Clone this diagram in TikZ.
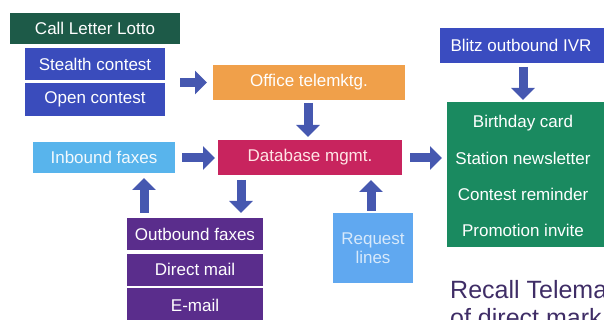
\documentclass[tikz,border=0pt]{standalone}
\usepackage{fontspec}
\setmainfont{Liberation Sans}
\usetikzlibrary{arrows.meta,calc}
\definecolor{lottoC}{HTML}{1D5A48}
\definecolor{contestC}{HTML}{3A4CBC}
\definecolor{officeC}{HTML}{F0A04A}
\definecolor{dbC}{HTML}{C8245E}
\definecolor{inC}{HTML}{58B4EC}
\definecolor{outC}{HTML}{5A2D8C}
\definecolor{reqC}{HTML}{60A8F0}
\definecolor{blitzC}{HTML}{3A4CC0}
\definecolor{greenC}{HTML}{1A8A60}
\definecolor{arrC}{HTML}{4658B0}
\definecolor{titleC}{HTML}{3F2D66}
\tikzset{
  box/.style={draw=none, inner sep=0pt, text=white, font=\fontsize{17}{19}\selectfont},
  blk/.style={draw=arrC, line width=9pt, -{Triangle[width=23pt,length=12pt]}, fill=arrC},
  gtext/.style={text=white, font=\fontsize{17}{19}\selectfont, inner sep=0pt},
  title/.style={text=titleC, font=\fontsize{25}{28}\selectfont, anchor=base west, inner sep=0pt}
}
\begin{document}
\begin{tikzpicture}[x=1pt,y=-1pt]
\useasboundingbox (0,0) rectangle (604,320);
\clip (0,0) rectangle (604,320);
% boxes
\node[box, fill=lottoC, minimum width=170pt, minimum height=31pt] (lotto) at (95,28.5) {Call Letter Lotto};
\node[box, fill=contestC, minimum width=140pt, minimum height=32pt] (stealth) at (95,64) {Stealth contest};
\node[box, fill=contestC, minimum width=140pt, minimum height=33pt] (open) at (95,99.5) {Open contest};
\node[box, fill=officeC, minimum width=192pt, minimum height=35pt] (office) at (309,82.5) {Office telemktg.};
\node[box, fill=dbC, text=pink!40!white, minimum width=184pt, minimum height=35pt] (db) at (310,157.5) {Database mgmt.};
\node[box, fill=inC, text=white!92!inC, minimum width=142pt, minimum height=31pt] (inbound) at (104,157.5) {Inbound faxes};
\node[box, fill=outC, minimum width=136pt, minimum height=32pt] (outbound) at (195,234) {Outbound faxes};
\node[box, fill=outC, minimum width=136pt, minimum height=32pt] (direct) at (195,269.5) {Direct mail};
\node[box, fill=outC, minimum width=136pt, minimum height=34pt] (email) at (195,305) {E-mail};
\node[box, fill=reqC, text=white!75!reqC, minimum width=80pt, minimum height=70pt, align=center, font=\fontsize{17}{19}\selectfont] (request) at (373,248) {Request\\lines};
\node[box, fill=blitzC, minimum width=166pt, minimum height=35pt] (blitz) at (523,45.5) {\hspace*{-4pt}Blitz outbound IVR};
\node[box, fill=greenC, minimum width=160pt, minimum height=145pt] (green) at (527,174.5) {};
\node[gtext] (g1) at (523,123) {Birthday card};
\node[gtext] (g2) at (523,158) {Station newsletter};
\node[gtext] (g3) at (523,194) {Contest reminder};
\node[gtext] (g4) at (523,230) {Promotion invite};
% bottom title (cut off at the edges, as in the reference)
\node[title] (t1) at (450,298) {Recall Telema};
\node[title] (t2) at (450,326) {of direct mark};
% connector end points
\coordinate (a1s) at (180,82.5);
\coordinate (a1e) at (207,82.5);
\coordinate (a2s) at (308,103);
\coordinate (a2e) at (308,137);
\coordinate (a3s) at (182,158);
\coordinate (a3e) at (215,158);
\coordinate (a4s) at (410,158);
\coordinate (a4e) at (442,158);
\coordinate (a5s) at (523,67);
\coordinate (a5e) at (523,100);
\coordinate (a6s) at (241,180);
\coordinate (a6e) at (241,213);
\coordinate (a7s) at (144,213);
\coordinate (a7e) at (144,178);
\coordinate (a8s) at (371,211);
\coordinate (a8e) at (371,180);
% connectors
\draw[blk] (a1s) -- (a1e);
\draw[blk] (a2s) -- (a2e);
\draw[blk] (a3s) -- (a3e);
\draw[blk] (a4s) -- (a4e);
\draw[blk] (a5s) -- (a5e);
\draw[blk] (a6s) -- (a6e);
\draw[blk] (a7s) -- (a7e);
\draw[blk] (a8s) -- (a8e);
\end{tikzpicture}
\end{document}
